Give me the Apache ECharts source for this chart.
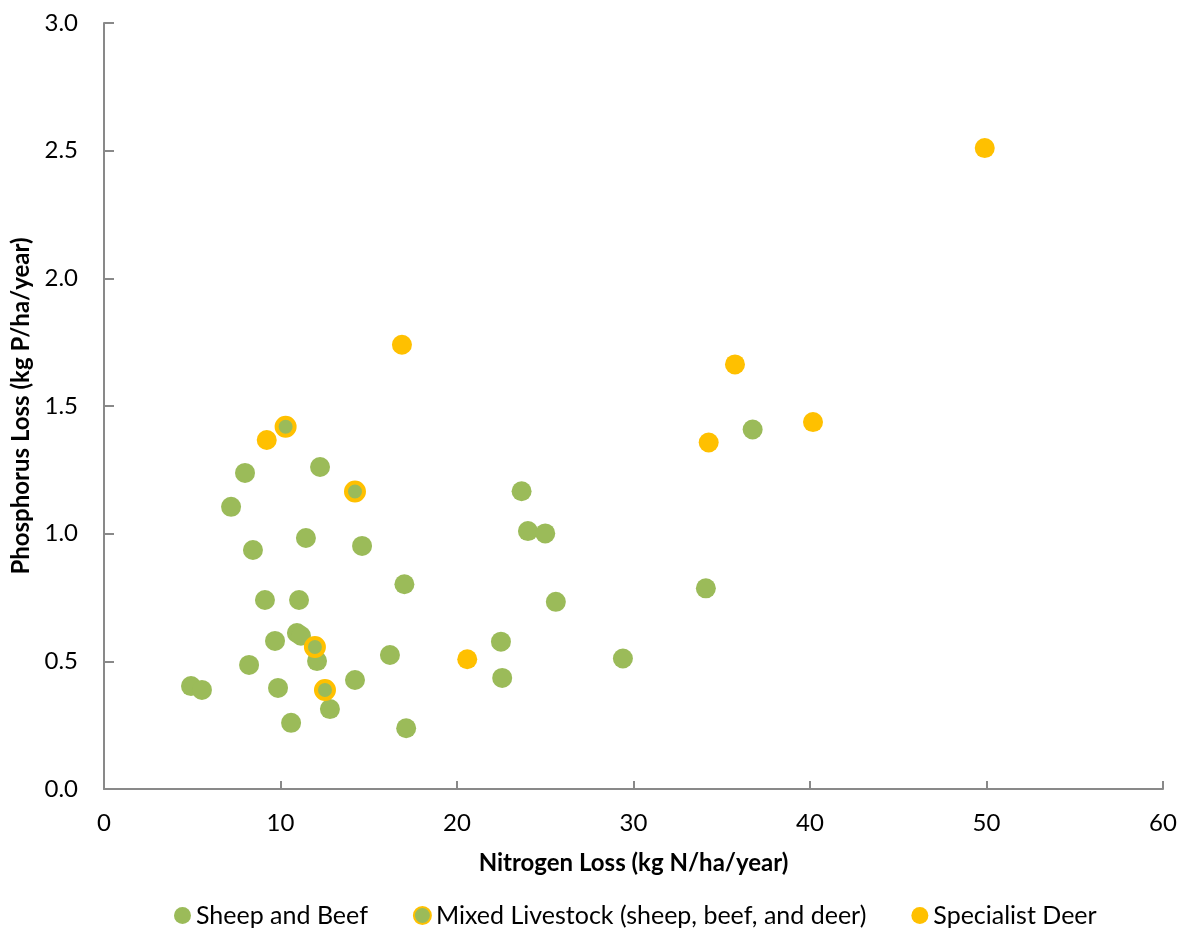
<!DOCTYPE html>
<html>
<head>
<meta charset="utf-8">
<style>
  html, body { margin: 0; padding: 0; background: #ffffff; }
  #chart { width: 1186px; height: 930px; }
</style>
<script src="https://cdn.jsdelivr.net/npm/echarts@6/dist/echarts.min.js"></script>
</head>
<body>
<div id="chart"></div>
<script>
// Farm-level nutrient losses: [nitrogen kg N/ha/yr, phosphorus kg P/ha/yr]
const sheepBeef = [
  [4.93, 0.403], [5.55, 0.388], [7.20, 1.105], [7.99, 1.238], [8.44, 0.936],
  [8.22, 0.486], [9.12, 0.740], [9.69, 0.580], [9.86, 0.396], [10.60, 0.259],
  [10.93, 0.611], [11.05, 0.740], [11.16, 0.600], [11.44, 0.983], [12.07, 0.501],
  [12.24, 1.261], [12.80, 0.313], [14.22, 0.427], [14.62, 0.952], [16.20, 0.525],
  [17.02, 0.802], [17.12, 0.238], [22.49, 0.577], [22.56, 0.435], [23.66, 1.166],
  [24.02, 1.010], [25.00, 1.001], [25.60, 0.733], [29.40, 0.511], [34.10, 0.786],
  [36.75, 1.408]
];
const mixedLivestock = [
  [10.29, 1.419], [14.22, 1.165], [11.95, 0.556], [12.52, 0.388]
];
const specialistDeer = [
  [9.22, 1.367], [16.88, 1.740], [20.58, 0.508], [35.75, 1.663],
  [34.26, 1.357], [40.17, 1.437], [49.90, 2.510]
];

const seriesNames = [
  'Sheep and Beef',
  'Mixed Livestock (sheep, beef, and deer)',
  'Specialist Deer'
];
const xAxisTitle = 'Nitrogen Loss (kg N/ha/year)';
const yAxisTitle = 'Phosphorus Loss (kg P/ha/year)';

const GREEN = '#9BBB59';
const GOLD = '#FFC000';
const AXIS = '#898989';
const FONT = 'Lato, "Open Sans", sans-serif';

const chart = echarts.init(document.getElementById('chart'), null, { renderer: 'canvas' });

chart.setOption({
  animation: false,
  backgroundColor: '#ffffff',
  textStyle: { fontFamily: FONT },
  grid: { left: 104, right: 23, top: 23, bottom: 141, containLabel: false },
  legend: {
    bottom: -3,
    left: 169,
    itemGap: 45,
    itemWidth: 17,
    itemHeight: 17,
    textStyle: { fontFamily: FONT, fontSize: 25, color: '#000000' },
    data: [
      { name: seriesNames[0], icon: 'circle' },
      { name: seriesNames[1], icon: 'circle' },
      { name: seriesNames[2], icon: 'circle' }
    ]
  },
  xAxis: {
    type: 'value',
    min: 0, max: 60, interval: 10,
    name: xAxisTitle,
    nameLocation: 'middle',
    nameGap: 62,
    nameTextStyle: { fontFamily: FONT, fontSize: 24, fontWeight: 'bold', color: '#000000' },
    axisLine: { show: true, lineStyle: { color: AXIS, width: 2 } },
    axisTick: { show: true, inside: true, length: 8, lineStyle: { color: AXIS, width: 2 } },
    axisLabel: { fontFamily: FONT, fontSize: 24, color: '#000000', margin: 22 },
    splitLine: { show: false }
  },
  yAxis: {
    type: 'value',
    min: 0, max: 3, interval: 0.5,
    name: yAxisTitle,
    nameLocation: 'middle',
    nameGap: 61,
    nameTextStyle: { fontFamily: FONT, fontSize: 24, fontWeight: 'bold', color: '#000000' },
    axisLine: { show: true, lineStyle: { color: AXIS, width: 2 } },
    axisTick: { show: true, inside: true, length: 10, lineStyle: { color: AXIS, width: 2 } },
    axisLabel: {
      fontFamily: FONT, fontSize: 24, color: '#000000', margin: 26,
      formatter: v => v.toFixed(1)
    },
    splitLine: { show: false }
  },
  series: [
    {
      name: seriesNames[0],
      type: 'scatter',
      symbol: 'circle',
      symbolSize: 20,
      itemStyle: { color: GREEN, opacity: 1 },
      data: sheepBeef
    },
    {
      name: seriesNames[1],
      type: 'scatter',
      symbol: 'circle',
      symbolSize: 18,
      itemStyle: { color: GREEN, borderColor: GOLD, borderWidth: 4, opacity: 1 },
      data: mixedLivestock
    },
    {
      name: seriesNames[2],
      type: 'scatter',
      symbol: 'circle',
      symbolSize: 20,
      itemStyle: { color: GOLD, opacity: 1 },
      data: specialistDeer
    }
  ]
});
</script>
</body>
</html>
